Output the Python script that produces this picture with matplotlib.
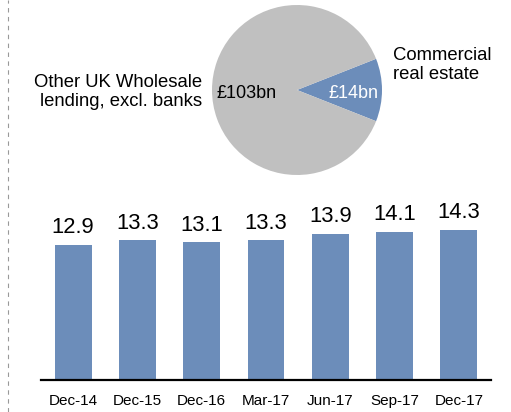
import matplotlib.pyplot as plt
from matplotlib.lines import Line2D

plt.rcParams['font.family'] = ['Liberation Sans', 'DejaVu Sans']

# pie: split of UK wholesale lending
pie_values = [14, 103]
pie_labels = ['£14bn', '£103bn']

# bars: commercial real estate lending, £bn
periods = ['Dec-14', 'Dec-15', 'Dec-16', 'Mar-17', 'Jun-17', 'Sep-17', 'Dec-17']
cre = [12.9, 13.3, 13.1, 13.3, 13.9, 14.1, 14.3]

blue = '#6c8dba'
grey = '#c0c0c0'

W, H = 511, 412
fig = plt.figure(figsize=(W / 100, H / 100), dpi=100)

def px(x, y):
    return x / W, 1 - y / H

# pie chart
pax = fig.add_axes([212 / W, (H - 175) / H, 170 / W, 170 / H])
pax.pie(pie_values, colors=[blue, grey], startangle=-pie_values[0] / sum(pie_values) * 180,
        counterclock=True, radius=1, wedgeprops=dict(linewidth=0))
pax.set_xlim(-1, 1)
pax.set_ylim(-1, 1)
pax.set_aspect('equal')
pax.axis('off')

fig.text(*px(353, 93), pie_labels[0], color='white', fontsize=13, ha='center', va='center')
fig.text(*px(247, 93), pie_labels[1], color='black', fontsize=13, ha='center', va='center')
fig.text(*px(202, 92), 'Other UK Wholesale\nlending, excl. banks', fontsize=13.3,
         ha='right', va='center', linespacing=1.2)
fig.text(*px(393, 65), 'Commercial\nreal estate', fontsize=13.3,
         ha='left', va='center', linespacing=1.2)

# bar chart
ax = fig.add_axes([41 / W, 32 / H, 450 / W, 190 / H])
x = range(len(periods))
bars = ax.bar(x, cre, width=0.575, color=blue)
for b, v in zip(bars, cre):
    ax.text(b.get_x() + b.get_width() / 2, v + 0.65, f'{v:.1f}', ha='center', va='bottom',
            fontsize=15.8)
ax.set_xlim(-0.5, len(periods) - 0.5)
ax.set_ylim(0, 18.1)
ax.set_xticks(list(x))
ax.set_xticklabels(periods, fontsize=11)
ax.tick_params(axis='x', length=0, pad=10)
ax.set_yticks([])
for s in ['top', 'right', 'left']:
    ax.spines[s].set_visible(False)
ax.spines['bottom'].set_linewidth(1.6)
ax.patch.set_alpha(0)

# dashed divider on the left
fig.add_artist(Line2D([8 / W, 8 / W], [0, 1], transform=fig.transFigure, color='#999999',
                      linewidth=0.8, linestyle=(0, (4, 4))))

fig.savefig('out.png', dpi=100)
